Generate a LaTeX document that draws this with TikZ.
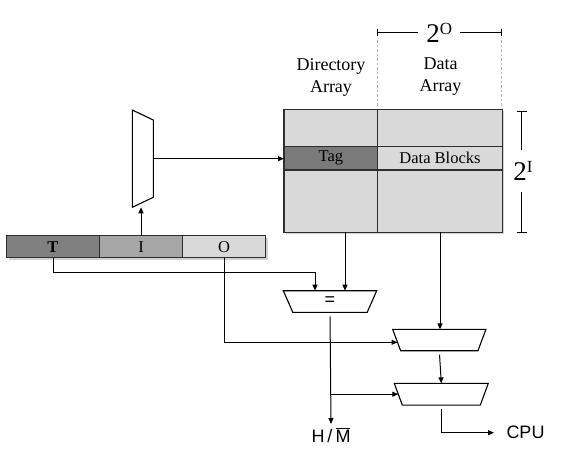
\documentclass[tikz,border=0pt]{standalone}
\usepackage{fontspec}
\setmainfont{Liberation Serif}
\setsansfont{Liberation Sans}
\usetikzlibrary{arrows.meta}
\definecolor{boxfill}{HTML}{D9D9D9}
\definecolor{tagfill}{HTML}{7A7A7A}
\definecolor{tfill}{HTML}{808080}
\definecolor{ifill}{HTML}{A6A6A6}
\definecolor{bordc}{HTML}{2E2E2E}
\newcommand\trapdown[2]{\draw[trapline] (#1.north west) -- (#1.north east) -- ([xshift=-#2]#1.south east) -- ([xshift=#2]#1.south west) -- cycle;}
\begin{document}
\begin{tikzpicture}[x=1pt,y=-1pt,
  cell/.style={draw=bordc, line width=1.3pt, inner sep=0pt, outer sep=0pt, font=\fontsize{16.5}{19}\selectfont},
  trapbox/.style={inner sep=0pt, outer sep=0pt, font=\sffamily\fontsize{18}{20}\selectfont},
  trapline/.style={draw=black, line width=1.1pt, fill=white},
  conn/.style={draw=black, line width=1pt, -{Triangle[length=6pt,width=5pt]}},
  plain/.style={draw=black, line width=1pt},
  guide/.style={draw=black!30, line width=0.7pt, dash pattern=on 2.5pt off 2pt},
  lbl/.style={font=\fontsize{18}{22}\selectfont, align=center},
  big/.style={font=\fontsize{27}{27}\selectfont, inner sep=0pt, fill=white}
]
\useasboundingbox (0,0) rectangle (563,461);
% shadows
\fill[black!18] (286,111.3) rectangle (504.3,234.3);
\fill[black!18] (8.7,237.7) rectangle (267.7,259.7);
% big array
\node[cell, fill=boxfill, minimum width=93.7pt, minimum height=123pt] (dir) at (330.85,170.8) {};
\node[cell, fill=boxfill, minimum width=124.6pt, minimum height=123pt] (data) at (440,170.8) {};
\node[cell, fill=tagfill, minimum width=93.7pt, minimum height=23.3pt] (tag) at (330.85,158.35) {Tag};
\node[cell, fill=boxfill, minimum width=124.6pt, minimum height=23.3pt] (blocks) at (440,158.35) {Data Blocks};
% address
\node[cell, fill=tfill, minimum width=92.6pt, minimum height=22pt] (T) at (53,246.7) {\textbf{T}};
\node[cell, fill=ifill, minimum width=83.4pt, minimum height=22pt] (I) at (141,246.7) {I};
\node[cell, fill=boxfill, minimum width=83pt, minimum height=22pt] (O) at (224.2,246.7) {O};
% labels
\node[lbl] (dirlbl) at (331,77) {Directory\\Array};
\node[lbl] (datalbl) at (440.5,77) {Data\\Array};
% guides
\draw[guide] (377.7,40) -- (377.7,107);
\draw[guide] (501.7,40) -- (501.7,107);
% 2^O bracket
\node[big, minimum width=41.7pt, minimum height=30pt] (twoO) at (439.2,33) {2\raisebox{8.4pt}{\fontsize{17}{17}\selectfont O}};
\coordinate (oL) at (377.7,32);
\coordinate (oR) at (501.7,32);
\draw[plain] (oL) -- (twoO.west |- oL);
\draw[plain] (twoO.east |- oR) -- (oR);
\draw[plain] (377.7,28.5) -- (377.7,35.5);
\draw[plain] (501.7,28.5) -- (501.7,35.5);
% 2^I bracket
\node[big, minimum width=24pt, minimum height=42pt] (twoI) at (523,171) {2\raisebox{8.3pt}{\fontsize{17}{17}\selectfont I}};
\coordinate (iT) at (521.7,111.7);
\coordinate (iB) at (521.7,232.3);
\draw[plain] (iT) -- (iT |- twoI.north);
\draw[plain] (iB |- twoI.south) -- (iB);
\draw[plain] (516.7,111.7) -- (526.7,111.7);
\draw[plain] (516.7,232.3) -- (526.7,232.3);
% index mux
\node[trapbox, minimum width=21pt, minimum height=97.3pt] (imux) at (142.8,158.65) {};
\draw[trapline] (imux.north west) -- ([yshift=-10pt]imux.north east) -- ([yshift=10pt]imux.south east) -- (imux.south west) -- cycle;
% comparator and muxes
\node[trapbox, minimum width=93.4pt, minimum height=21.6pt] (cmp) at (330,301.5) {};
\trapdown{cmp}{9.5pt}
\node[trapbox] at (cmp) {=};
\node[trapbox, minimum width=93.3pt, minimum height=21.4pt] (m2) at (439.3,340) {};
\trapdown{m2}{8pt}
\node[trapbox, minimum width=94pt, minimum height=21.7pt] (m3) at (441.3,394.2) {};
\trapdown{m3}{8pt}
% outputs
\node[trapbox, anchor=north, inner ysep=4pt] (hm) at (331,424) {H\,/\,\ensuremath{\overline{\hbox{M}}}};
\node[trapbox, anchor=west, inner xsep=12.5pt] (cpu) at (494,432.7) {CPU};
% connectors
\draw[conn] (I.north) -- (I.north |- imux.south);
\draw[conn] (imux.east) -- (imux.east -| tag.west);
\draw[conn] (T.south) |- (315,272.7) -- ([xshift=-15pt]cmp.north);
\draw[conn] ([xshift=15pt]cmp.north |- dir.south) -- ([xshift=15pt]cmp.north);
\draw[conn] (data.south) -- (data.south |- m2.north);
\coordinate (m2in) at (397.5,342.3);
\draw[conn] (O.south) |- (m2in);
\draw[conn, shorten <=4pt] (m2.south) -- (m3.north);
\draw[conn, shorten <=4pt] (cmp.south) -- (hm.north);
\coordinate (br) at (cmp.south |- m3.west);
\draw[conn] (br) -- ([xshift=4pt]m3.west);
\draw[conn, shorten <=4pt] (m3.south) |- (cpu.west);
\end{tikzpicture}
\end{document}
